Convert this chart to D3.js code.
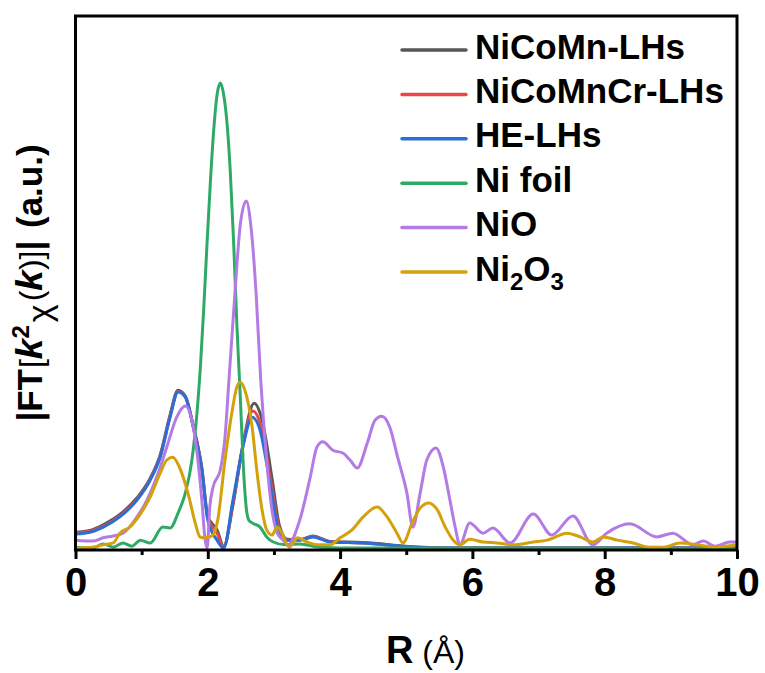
<!DOCTYPE html>
<html>
<head>
<meta charset="utf-8">
<script src="https://cdn.jsdelivr.net/npm/d3@7"></script>
<style>
  body { margin: 0; background: #fff; }
  svg { display: block; }
</style>
</head>
<body>
<svg id="chart" width="765" height="673"></svg>
<script>
// Fourier-transformed EXAFS spectra, |FT[k^2 chi(k)]| versus R (Å)

// NiCoMn-LHs
const rNiCoMn = [0, 0.22, 0.42, 0.67, 0.93, 1.13, 1.28, 1.43, 1.55, 1.66, 1.78, 1.91, 2.00, 2.14, 2.24, 2.38, 2.53, 2.70, 2.82, 2.97, 3.08, 3.20, 3.39, 3.59, 3.85, 4.35, 5.10, 5.66, 10];
const yNiCoMn = [0.36, 0.40, 0.52, 0.74, 1.10, 1.52, 2.02, 2.88, 3.41, 3.28, 2.64, 1.74, 0.70, 0.41, 0.06, 0.94, 2.23, 3.13, 2.77, 1.52, 0.52, 0.21, 0.20, 0.28, 0.16, 0.14, 0.05, 0.02, 0.02];

// NiCoMnCr-LHs
const rNiCoMnCr = [0, 0.22, 0.42, 0.67, 0.93, 1.13, 1.28, 1.43, 1.55, 1.66, 1.78, 1.91, 2.00, 2.14, 2.24, 2.38, 2.53, 2.68, 2.80, 2.95, 3.07, 3.20, 3.39, 3.59, 3.85, 4.35, 5.10, 5.66, 10];
const yNiCoMnCr = [0.34, 0.38, 0.49, 0.71, 1.07, 1.50, 1.99, 2.85, 3.38, 3.27, 2.63, 1.72, 0.66, 0.34, 0.04, 0.98, 2.20, 2.96, 2.66, 1.47, 0.50, 0.20, 0.20, 0.27, 0.16, 0.13, 0.04, 0.02, 0.02];

// HE-LHs
const rHE = [0, 0.22, 0.42, 0.67, 0.93, 1.13, 1.28, 1.43, 1.55, 1.66, 1.78, 1.91, 2.00, 2.14, 2.24, 2.38, 2.53, 2.67, 2.79, 2.94, 3.06, 3.20, 3.39, 3.59, 3.85, 4.35, 5.10, 5.66, 10];
const yHE = [0.32, 0.36, 0.47, 0.69, 1.05, 1.48, 1.97, 2.83, 3.37, 3.26, 2.62, 1.70, 0.62, 0.19, 0.02, 1.05, 2.19, 2.83, 2.55, 1.42, 0.47, 0.19, 0.19, 0.26, 0.15, 0.13, 0.04, 0.02, 0.02];

// Ni foil
const rNiFoil = [0, 0.26, 0.42, 0.57, 0.72, 0.85, 0.98, 1.13, 1.32, 1.43, 1.55, 1.66, 1.76, 1.84, 1.89, 1.94, 1.99, 2.04, 2.09, 2.14, 2.19, 2.24, 2.29, 2.34, 2.39, 2.44, 2.49, 2.54, 2.58, 2.62, 2.67, 2.79, 2.89, 2.99, 3.17, 3.39, 3.69, 4.30, 10];
const yNiFoil = [0.04, 0.02, 0.11, 0.04, 0.13, 0.06, 0.19, 0.13, 0.47, 0.45, 0.77, 1.20, 1.91, 2.98, 3.95, 5.20, 6.60, 7.90, 9.00, 9.75, 10.0, 9.75, 9.15, 8.10, 6.60, 4.80, 3.30, 1.70, 0.90, 0.62, 0.56, 0.47, 0.26, 0.15, 0.09, 0.11, 0.04, 0.02, 0.01];

// NiO
const rNiO = [0, 0.26, 0.42, 0.57, 0.72, 0.93, 1.08, 1.23, 1.38, 1.53, 1.66, 1.78, 1.85, 1.91, 1.96, 1.99, 2.03, 2.08, 2.19, 2.26, 2.32, 2.41, 2.49, 2.58, 2.65, 2.73, 2.80, 2.89, 2.97, 3.05, 3.14, 3.21, 3.39, 3.55, 3.65, 3.74, 3.89, 4.04, 4.15, 4.26, 4.41, 4.53, 4.63, 4.75, 4.87, 5.01, 5.10, 5.21, 5.31, 5.45, 5.56, 5.66, 5.74, 5.81, 5.96, 6.16, 6.31, 6.57, 6.92, 7.20, 7.52, 7.82, 8.03, 8.38, 8.79, 9.03, 9.33, 9.49, 9.67, 9.89, 10];
const yNiO = [0.19, 0.17, 0.24, 0.28, 0.34, 0.69, 1.05, 1.55, 2.19, 2.83, 3.07, 2.62, 1.91, 1.05, 0.19, 0.02, 0.90, 1.33, 1.70, 2.40, 3.63, 5.49, 6.95, 7.47, 6.95, 5.49, 3.63, 1.91, 0.84, 0.34, 0.19, 0.09, 0.62, 1.55, 2.19, 2.30, 2.12, 2.06, 1.91, 1.74, 2.27, 2.77, 2.85, 2.62, 1.97, 1.20, 0.47, 1.20, 1.91, 2.17, 1.76, 1.05, 0.47, 0.09, 0.56, 0.34, 0.45, 0.13, 0.75, 0.30, 0.71, 0.09, 0.34, 0.54, 0.26, 0.34, 0.09, 0.17, 0.06, 0.15, 0.15];

// Ni2O3
const rNi2O3 = [0, 0.26, 0.42, 0.57, 0.67, 0.82, 0.98, 1.13, 1.28, 1.38, 1.47, 1.57, 1.70, 1.81, 1.88, 1.93, 2.03, 2.08, 2.15, 2.26, 2.37, 2.44, 2.49, 2.56, 2.67, 2.74, 2.82, 2.89, 2.97, 3.05, 3.12, 3.23, 3.36, 3.50, 3.65, 3.85, 4.00, 4.18, 4.35, 4.56, 4.71, 4.86, 4.95, 5.09, 5.21, 5.34, 5.47, 5.59, 5.71, 5.81, 5.96, 6.16, 6.37, 6.61, 6.92, 7.13, 7.43, 7.63, 7.82, 7.98, 8.19, 8.43, 8.68, 8.88, 9.14, 9.40, 9.64, 10];
const yNi2O3 = [0.02, 0.04, 0.09, 0.13, 0.34, 0.47, 0.75, 1.12, 1.63, 1.91, 1.97, 1.76, 1.20, 0.56, 0.26, 0.24, 0.26, 0.30, 0.62, 1.91, 2.98, 3.48, 3.58, 3.41, 2.62, 1.70, 0.84, 0.41, 0.30, 0.47, 0.34, 0.04, 0.24, 0.15, 0.09, 0.09, 0.24, 0.41, 0.69, 0.90, 0.69, 0.34, 0.13, 0.56, 0.88, 0.99, 0.84, 0.47, 0.19, 0.09, 0.21, 0.15, 0.13, 0.09, 0.15, 0.19, 0.34, 0.26, 0.15, 0.26, 0.19, 0.13, 0.04, 0.04, 0.13, 0.09, 0.04, 0.09];

const seriesNames = ["NiCoMn-LHs", "NiCoMnCr-LHs", "HE-LHs", "Ni foil", "NiO", "Ni2O3"];
const seriesColors = ["#575757", "#e8484a", "#2a6fd8", "#2eaa66", "#b47be4", "#d4a10a"];
const xTickMajor = [0, 2, 4, 6, 8, 10];
const xTickMinor = [1, 3, 5, 7, 9];

const seriesData = [
  [rNiCoMn, yNiCoMn],
  [rNiCoMnCr, yNiCoMnCr],
  [rHE, yHE],
  [rNiFoil, yNiFoil],
  [rNiO, yNiO],
  [rNi2O3, yNi2O3]
].map(([r, v], i) => ({
  name: seriesNames[i],
  color: seriesColors[i],
  points: r.map((d, j) => ({ r: d, v: v[j] }))
}));

const svg = d3.select("#chart");
const plotL = 75.5, plotR = 737, plotT = 16, plotB = 550;

const x = d3.scaleLinear().domain([0, 10]).range([plotL, plotR]);
const y = d3.scaleLinear().domain([0, 11.44]).range([549, plotT]);

svg.append("defs").append("clipPath").attr("id", "plot-clip")
  .append("rect")
  .attr("x", plotL).attr("y", plotT)
  .attr("width", plotR - plotL).attr("height", plotB - plotT);

// spectra
const line = d3.line()
  .x(d => x(d.r))
  .y(d => y(d.v))
  .curve(d3.curveMonotoneX);

svg.append("g").attr("clip-path", "url(#plot-clip)")
  .selectAll("path")
  .data(seriesData)
  .join("path")
  .attr("d", d => line(d.points))
  .attr("fill", "none")
  .attr("stroke", d => d.color)
  .attr("stroke-width", 3)
  .attr("stroke-linejoin", "round")
  .attr("stroke-linecap", "round");

// bottom axis: labelled major ticks and unlabelled minor ticks
const axisMajor = svg.append("g")
  .attr("transform", `translate(0,${plotB})`)
  .call(d3.axisBottom(x).tickValues(xTickMajor).tickSize(9).tickFormat(d3.format("d")));
axisMajor.select(".domain").remove();
axisMajor.selectAll(".tick line").attr("stroke", "#000").attr("stroke-width", 3);
axisMajor.selectAll(".tick text")
  .attr("dy", null)
  .attr("y", 46)
  .attr("fill", "#000")
  .style("font-family", "'Liberation Sans Narrow', 'Arial Narrow', sans-serif")
  .style("font-weight", "bold")
  .style("font-size", "40px");

const axisMinor = svg.append("g")
  .attr("transform", `translate(0,${plotB})`)
  .call(d3.axisBottom(x).tickValues(xTickMinor).tickSize(5).tickFormat(""));
axisMinor.select(".domain").remove();
axisMinor.selectAll(".tick line").attr("stroke", "#000").attr("stroke-width", 3);

// plot frame
svg.append("rect")
  .attr("x", plotL).attr("y", plotT)
  .attr("width", plotR - plotL).attr("height", plotB - plotT)
  .attr("fill", "none")
  .attr("stroke", "#000")
  .attr("stroke-width", 3);

// axis titles
const xTitle = svg.append("text")
  .attr("x", 386).attr("y", 663)
  .attr("fill", "#000")
  .style("font-family", "'Liberation Sans', Arial, sans-serif");
xTitle.append("tspan").style("font-weight", "bold").style("font-size", "38px").text("R");
xTitle.append("tspan")
  .style("font-family", "'Liberation Sans Narrow', 'Arial Narrow', sans-serif")
  .style("font-size", "32px")
  .text(" (Å)");

const yTitle = svg.append("text")
  .attr("transform", "translate(42,283) rotate(-90)")
  .attr("text-anchor", "middle")
  .attr("fill", "#000")
  .style("font-family", "'Liberation Sans', Arial, sans-serif")
  .style("font-weight", "bold")
  .style("font-size", "35px");
yTitle.append("tspan").text("|FT");
yTitle.append("tspan").attr("dx", 1).style("font-weight", "normal").style("font-size", "32px").text("[");
yTitle.append("tspan").style("font-style", "italic").style("font-size", "37px").text("k");
yTitle.append("tspan").attr("dy", -13).style("font-size", "24px").text("2");
yTitle.append("tspan").attr("dy", 22).attr("dx", 3).style("font-weight", "normal").style("font-size", "34px").text("χ");
yTitle.append("tspan").attr("dy", -9).attr("dx", 3).style("font-weight", "normal").style("font-size", "32px").text("(");
yTitle.append("tspan").style("font-style", "italic").style("font-size", "37px").text("k");
yTitle.append("tspan").style("font-weight", "normal").style("font-size", "32px").text(")]");
yTitle.append("tspan").text("|");
yTitle.append("tspan").attr("dx", 3).text(" (a.u.)");

// legend
const legend = svg.append("g");
const rowGap = 44.4;
seriesData.forEach((s, i) => {
  const cy = 50 + i * rowGap;
  legend.append("line")
    .attr("x1", 402).attr("x2", 466)
    .attr("y1", cy).attr("y2", cy)
    .attr("stroke", s.color)
    .attr("stroke-width", 3.5)
    .attr("stroke-linecap", "round");
  const t = legend.append("text")
    .attr("x", 475).attr("y", cy + 8.5)
    .attr("fill", "#000")
    .style("font-family", "'Liberation Sans', Arial, sans-serif")
    .style("font-weight", "bold")
    .style("font-size", "35px");
  if (s.name === "Ni2O3") {
    t.append("tspan").text("Ni");
    t.append("tspan").attr("dy", 9).style("font-size", "24px").text("2");
    t.append("tspan").attr("dy", -9).text("O");
    t.append("tspan").attr("dy", 9).style("font-size", "24px").text("3");
  } else {
    t.text(s.name);
  }
});
</script>
</body>
</html>
